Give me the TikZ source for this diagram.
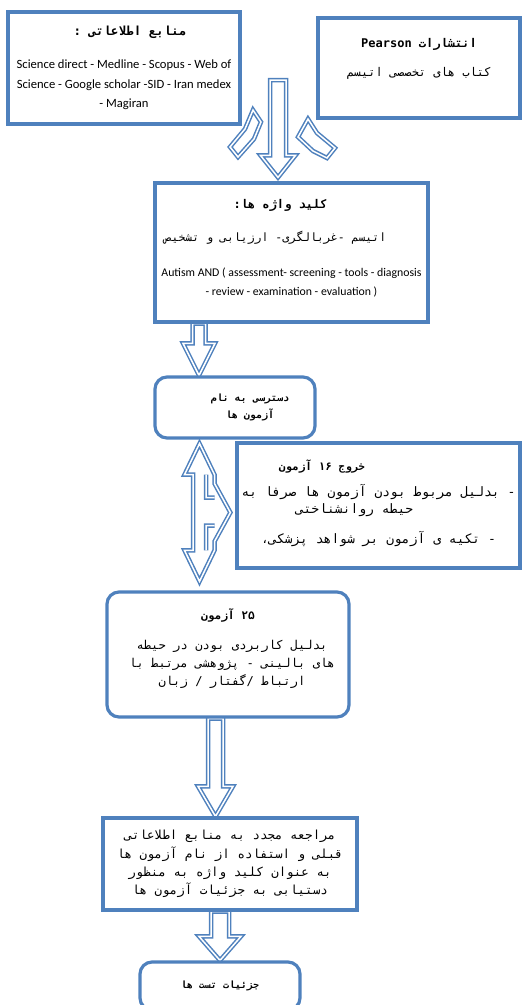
\documentclass[tikz,border=0pt]{standalone}
\usepackage{fontspec}
\setmainfont{Carlito}
\newfontfamily\farsi[Script=Arabic]{DejaVu Sans Mono}
\TeXXeTstate=1
\usetikzlibrary{calc,backgrounds}
\definecolor{boxblue}{RGB}{79,129,189}

% one right-to-left line of Persian text, optional size
\newcommand{\fa}[2][11.5]{{\farsi\fontsize{#1}{19}\selectfont\beginR #2\endR}}
% move a line off the centre: left or right by half of #1
\newcommand{\toleft}[2]{\hbox{#2\kern#1}}
\newcommand{\toright}[2]{\hbox{\kern#1#2}}

% block arrow pointing down, from node #2 to node #3 at x=#1
\newcommand{\downblock}[6]{%
  \path (#1,0 |- #2.south) coordinate (a0) (#1,0 |- #3.north) coordinate (a1);
  \draw[blockarrow] let \p1=(a0), \p2=(a1) in
    (\x1-#4,\y1) -- (\x1+#4,\y1) -- (\x1+#4,\y2+#6) -- (\x1+#5,\y2+#6)
    -- (\x2,\y2) -- (\x1-#5,\y2+#6) -- (\x1-#4,\y2+#6) -- cycle;
}

\begin{document}
\begin{tikzpicture}[x=1pt,y=-1pt,
    font=\fontsize{11.8}{19.5}\selectfont,
    box/.style={draw=boxblue, line width=3.2pt, fill=white, align=center, inner sep=0pt},
    roundbox/.style={box, rounded corners=12pt},
    blockarrow/.style={draw=boxblue, line width=1.5pt, double=white, double distance=1.5pt,
        fill=white, line join=miter}
]
\useasboundingbox (0,0) rectangle (522,1005);

\node[box, minimum width=232, minimum height=112, font=\fontsize{12.6}{19.5}\selectfont] (sources) at (124,68)
  {\toright{12pt}{\textbf{\fa[12.5]{منابع اطلاعاتی :}}}\\[14pt]
   Science direct - Medline - Scopus - Web of\\
   Science - Google scholar -SID - Iran medex\\
   - Magiran};
\node[box, minimum width=202, minimum height=100] (books) at (419,68)
  {\textbf{\fa[12]{انتشارات \beginL Pearson\endL{}}}\\[10pt]
   \fa[12]{کتاب های تخصصی اتیسم}\rule[-21pt]{0pt}{21pt}};
\node[box, minimum width=273, minimum height=139] (keywords) at (291.5,252.5)
  {\toleft{22pt}{\textbf{\fa[12]{کلید واژه ها:}}}\\[14pt]
   \toleft{32pt}{\fa{اتیسم -غربالگری- ارزیابی و تشخیص}}\\[15pt]
   Autism AND ( assessment- screening - tools - diagnosis\\
   - review - examination - evaluation )\rule[-10pt]{0pt}{10pt}};
\node[roundbox, minimum width=160, minimum height=61] (access) at (235,407.5)
  {\toright{30pt}{\textbf{\fa[10]{دسترسی به نام}}}\\[-2pt]
   \toright{30pt}{\textbf{\fa[10]{آزمون ها}}}};
\node[box, minimum width=283, minimum height=125] (excluded) at (378.5,505.5)
  {\toleft{113pt}{\textbf{\fa[11]{خروج ۱۶ آزمون}}}\\[7pt]
   \fa[13]{- بدلیل مربوط بودن آزمون ها صرفا به}\\[-2.5pt]
   \toleft{48pt}{\fa[13]{حیطه روانشناختی}}\\[10pt]
   \fa[13]{- تکیه ی آزمون بر شواهد پزشکی،}\rule[-8pt]{0pt}{8pt}};
\node[roundbox, minimum width=242, minimum height=125] (kept) at (228,654.5)
  {\textbf{\fa[11.2]{۲۵ آزمون}}\\[10pt]
   \toright{8pt}{\fa[12.2]{بدلیل کاربردی بودن در حیطه}}\\[-1pt]
   \toright{8pt}{\fa[12.2]{های بالینی - پژوهشی مرتبط با}}\\[-1.5pt]
   \toright{8pt}{\fa[12.2]{ارتباط /گفتار / زبان}}\rule[-14pt]{0pt}{14pt}};
\node[box, minimum width=254, minimum height=92] (revisit) at (230,864)
  {\fa[12.5]{مراجعه مجدد به منابع اطلاعاتی}\\[-1pt]
   \fa[12.5]{قبلی و استفاده از نام آزمون ها}\\[-1.5pt]
   \fa[12.5]{به عنوان کلید واژه به منظور}\\[-1.5pt]
   \fa[12.5]{دستیابی به جزئیات آزمون ها}};
\node[roundbox, minimum width=160, minimum height=48] (details) at (220,986)
  {\textbf{\fa[10]{جزئیات تست ها}}};

\coordinate (merge) at (278,80);
\coordinate (split) at (199.5,0);

\begin{scope}[on background layer]
  % converging arrows from both sources
  \draw[blockarrow] (253,110) -- (261,122) -- (254,139) -- (238,157) -- (230,147) -- (245,129) -- cycle;
  \draw[blockarrow] (308,119) -- (317,133) -- (335,148) -- (327,158) -- (313,151) -- (298,137) -- cycle;
  \draw[blockarrow] let \p1=(merge), \p2=(keywords.north) in
    (\x1-8pt,\y1) -- (\x1+8pt,\y1) -- (\x1+8pt,\y2+26pt) -- (\x1+17.5pt,\y2+26pt)
    -- (\x1,\y2+4pt) -- (\x1-17.5pt,\y2+26pt) -- (\x1-8pt,\y2+26pt) -- cycle;
  \downblock{199}{keywords}{access}{6.5pt}{16pt}{32pt}
  % up-down arrow with a branch to the excluded tests
  \draw[blockarrow] let \p0=(split), \p1=(access.south), \p2=(kept.north), \p3=(excluded.west),
      \n1={\y1-4pt}, \n2={\y2+9pt}, \n3={(\n1+\n2)/2} in
    (\x0,\n1) -- (\x0+15pt,\n1-31pt) -- (\x0+15pt,\n3+29pt) -- (\x3-5pt,\n3)
    -- (\x0+15pt,\n3-29pt) -- (\x0+15pt,\n2+31pt) -- (\x0,\n2) -- (\x0-15pt,\n2+31pt)
    -- (\x0-6.5pt,\n2+31pt) -- (\x0-6.5pt,\n1-31pt) -- (\x0-15pt,\n1-31pt) -- cycle
    (\x0+6.5pt,\n1-31pt) -- (\x0+6.5pt,\n3+15pt) -- (\x0+15pt,\n3+15pt)
    (\x0+6.5pt,\n2+31pt) -- (\x0+6.5pt,\n3-13pt) -- (\x0+15pt,\n3-13pt);
  \downblock{215.5}{kept}{revisit}{7.5pt}{17.5pt}{30pt}
  \downblock{220}{revisit}{details}{9pt}{21pt}{24pt}
\end{scope}
\end{tikzpicture}
\end{document}
